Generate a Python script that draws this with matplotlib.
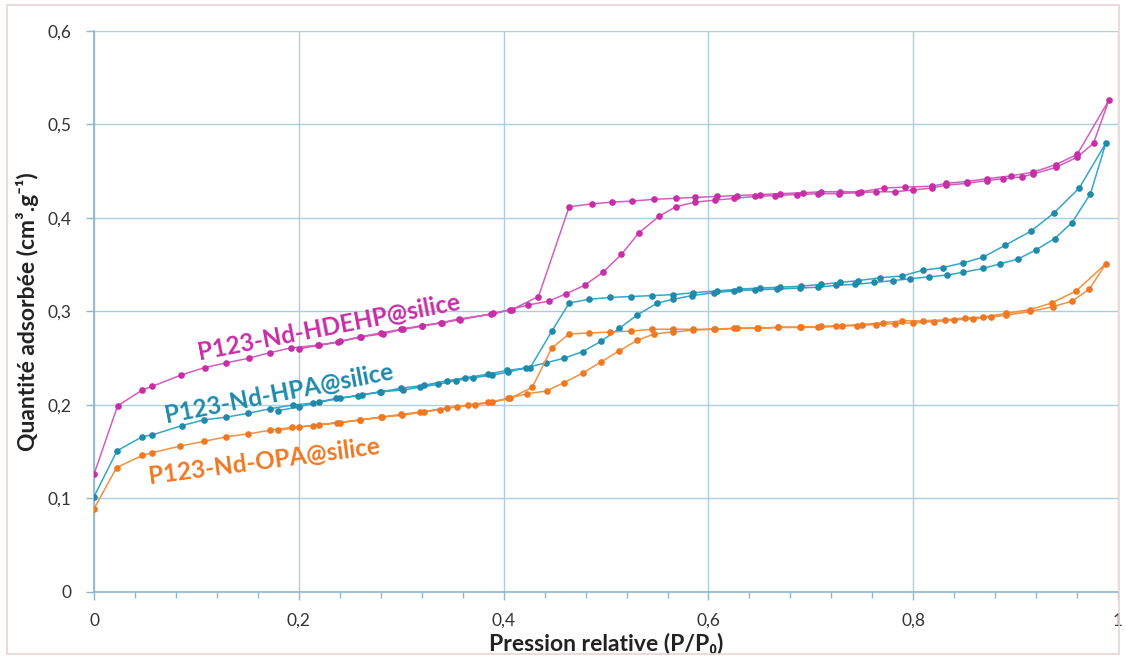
import matplotlib
matplotlib.use("Agg")
import matplotlib.pyplot as plt
from matplotlib.ticker import MultipleLocator, FuncFormatter
from matplotlib.patches import Rectangle

plt.rcParams['font.family'] = ['Lato', 'DejaVu Sans']

# P123-Nd-HDEHP@silice
hdehp_ads_x = [0, 0.023, 0.047, 0.057, 0.085, 0.108, 0.129, 0.151, 0.172, 0.192, 0.219, 0.238, 0.261,
               0.282, 0.302, 0.320, 0.339, 0.356, 0.388, 0.406, 0.424, 0.444, 0.461, 0.479, 0.497, 0.515,
               0.532, 0.552, 0.568, 0.587, 0.606, 0.625, 0.645, 0.665, 0.686, 0.707, 0.727, 0.746, 0.764,
               0.782, 0.800, 0.818, 0.832, 0.852, 0.872, 0.888, 0.906, 0.917, 0.939, 0.960, 0.976, 0.991]
hdehp_ads_y = [0.126, 0.199, 0.216, 0.220, 0.232, 0.240, 0.245, 0.250, 0.256, 0.261, 0.264, 0.267, 0.273,
               0.276, 0.281, 0.284, 0.288, 0.292, 0.297, 0.302, 0.307, 0.311, 0.319, 0.328, 0.342, 0.361,
               0.384, 0.402, 0.412, 0.417, 0.419, 0.421, 0.423, 0.424, 0.425, 0.426, 0.426, 0.427, 0.428,
               0.428, 0.430, 0.432, 0.435, 0.437, 0.440, 0.442, 0.444, 0.447, 0.454, 0.465, 0.480, 0.526]
hdehp_des_x = [0.960, 0.939, 0.917, 0.895, 0.872, 0.852, 0.832, 0.818, 0.792, 0.771, 0.749, 0.728, 0.710,
               0.692, 0.670, 0.650, 0.628, 0.608, 0.587, 0.568, 0.547, 0.525, 0.506, 0.486, 0.464, 0.434,
               0.408, 0.390, 0.357, 0.340, 0.320, 0.300, 0.280, 0.260, 0.240, 0.220, 0.200]
hdehp_des_y = [0.468, 0.457, 0.449, 0.445, 0.442, 0.439, 0.437, 0.434, 0.433, 0.432, 0.428, 0.428, 0.428,
               0.427, 0.426, 0.425, 0.424, 0.423, 0.422, 0.421, 0.420, 0.418, 0.417, 0.415, 0.412, 0.316,
               0.302, 0.298, 0.291, 0.288, 0.285, 0.281, 0.277, 0.273, 0.268, 0.264, 0.260]

# P123-Nd-HPA@silice
hpa_ads_x = [0, 0.0225, 0.047, 0.057, 0.086, 0.107, 0.129, 0.150, 0.172, 0.194, 0.214, 0.236, 0.258,
             0.279, 0.302, 0.318, 0.336, 0.353, 0.370, 0.389, 0.404, 0.422, 0.441, 0.459, 0.477, 0.495,
             0.513, 0.530, 0.550, 0.565, 0.584, 0.605, 0.625, 0.645, 0.667, 0.689, 0.707, 0.725, 0.743,
             0.762, 0.780, 0.797, 0.815, 0.833, 0.849, 0.868, 0.885, 0.902, 0.920, 0.938, 0.955, 0.973, 0.988]
hpa_ads_y = [0.102, 0.151, 0.166, 0.168, 0.178, 0.184, 0.187, 0.191, 0.196, 0.200, 0.202, 0.207, 0.210,
             0.214, 0.216, 0.219, 0.222, 0.226, 0.229, 0.232, 0.235, 0.240, 0.245, 0.250, 0.257, 0.268,
             0.282, 0.296, 0.309, 0.313, 0.317, 0.320, 0.322, 0.323, 0.324, 0.325, 0.326, 0.328, 0.329,
             0.331, 0.333, 0.335, 0.337, 0.339, 0.342, 0.346, 0.351, 0.356, 0.366, 0.378, 0.395, 0.426, 0.480]
hpa_des_x = [0.962, 0.937, 0.915, 0.890, 0.868, 0.849, 0.829, 0.809, 0.789, 0.767, 0.746, 0.728, 0.710,
             0.690, 0.670, 0.650, 0.630, 0.608, 0.585, 0.565, 0.545, 0.524, 0.504, 0.483, 0.464, 0.447,
             0.426, 0.403, 0.385, 0.362, 0.345, 0.322, 0.300, 0.280, 0.262, 0.240, 0.220, 0.200, 0.180]
hpa_des_y = [0.432, 0.405, 0.386, 0.371, 0.358, 0.352, 0.347, 0.344, 0.338, 0.336, 0.333, 0.331, 0.329,
             0.327, 0.326, 0.325, 0.324, 0.322, 0.320, 0.318, 0.317, 0.316, 0.315, 0.313, 0.309, 0.279,
             0.240, 0.237, 0.233, 0.229, 0.226, 0.221, 0.218, 0.214, 0.211, 0.207, 0.203, 0.198, 0.194]

# P123-Nd-OPA@silice
opa_ads_x = [0, 0.022, 0.047, 0.057, 0.084, 0.107, 0.129, 0.150, 0.172, 0.193, 0.214, 0.237, 0.260,
             0.281, 0.301, 0.318, 0.338, 0.354, 0.372, 0.389, 0.404, 0.423, 0.442, 0.459, 0.477, 0.495,
             0.513, 0.530, 0.547, 0.565, 0.585, 0.605, 0.625, 0.647, 0.668, 0.689, 0.707, 0.725, 0.745,
             0.764, 0.782, 0.800, 0.820, 0.840, 0.858, 0.876, 0.891, 0.914, 0.936, 0.955, 0.972, 0.988]
opa_ads_y = [0.089, 0.133, 0.146, 0.149, 0.156, 0.161, 0.166, 0.169, 0.173, 0.176, 0.178, 0.181, 0.184,
             0.187, 0.189, 0.192, 0.195, 0.198, 0.200, 0.203, 0.207, 0.212, 0.215, 0.224, 0.234, 0.246,
             0.258, 0.269, 0.276, 0.278, 0.280, 0.281, 0.282, 0.282, 0.283, 0.283, 0.283, 0.284, 0.285,
             0.286, 0.287, 0.288, 0.289, 0.291, 0.292, 0.294, 0.296, 0.300, 0.305, 0.311, 0.324, 0.351]
opa_des_x = [0.959, 0.935, 0.914, 0.891, 0.868, 0.850, 0.831, 0.809, 0.789, 0.770, 0.750, 0.730, 0.710,
             0.690, 0.668, 0.648, 0.628, 0.606, 0.585, 0.565, 0.545, 0.524, 0.504, 0.483, 0.464, 0.447,
             0.428, 0.406, 0.385, 0.365, 0.345, 0.322, 0.300, 0.280, 0.260, 0.240, 0.220, 0.200, 0.180]
opa_des_y = [0.322, 0.309, 0.302, 0.298, 0.294, 0.293, 0.291, 0.290, 0.290, 0.288, 0.286, 0.285, 0.284,
             0.283, 0.283, 0.282, 0.282, 0.281, 0.281, 0.281, 0.281, 0.279, 0.278, 0.277, 0.276, 0.261,
             0.219, 0.207, 0.203, 0.200, 0.197, 0.193, 0.190, 0.187, 0.184, 0.181, 0.179, 0.176, 0.173]

# (nom, x ads, y ads, x des, y des, couleur marqueur, couleur ligne)
series = [
    ("P123-Nd-HDEHP@silice", hdehp_ads_x, hdehp_ads_y, hdehp_des_x, hdehp_des_y, '#c62fa6', '#d25fbe'),
    ("P123-Nd-HPA@silice", hpa_ads_x, hpa_ads_y, hpa_des_x, hpa_des_y, '#1f8aaa', '#35a6c8'),
    ("P123-Nd-OPA@silice", opa_ads_x, opa_ads_y, opa_des_x, opa_des_y, '#ef7823', '#f3913f'),
]

fig = plt.figure(figsize=(11.26, 6.59), dpi=100)
ax = fig.add_axes([0.0835, 0.1017, 0.9095, 0.8513])

# cadre du graphique (style Excel)
fig.patches.append(Rectangle((0.006, 0.008), 0.988, 0.984, transform=fig.transFigure,
                             fill=False, edgecolor='#e6d6d2', linewidth=1.2))

for nom, ax_x, ax_y, de_x, de_y, couleur, couleur_ligne in series:
    xs = list(ax_x) + list(de_x)
    ys = list(ax_y) + list(de_y)
    ax.plot(xs, ys, color=couleur_ligne, linewidth=1.1, marker='o', markersize=4.8,
            markerfacecolor=couleur, markeredgewidth=0, zorder=3)

ax.set_xlim(0, 1)
ax.set_ylim(0, 0.6)
ax.xaxis.set_major_locator(MultipleLocator(0.2))
ax.xaxis.set_minor_locator(MultipleLocator(0.04))
ax.yaxis.set_major_locator(MultipleLocator(0.1))
virgule = FuncFormatter(lambda v, p: ('%g' % round(v, 2)).replace('.', ','))
ax.xaxis.set_major_formatter(virgule)
ax.yaxis.set_major_formatter(virgule)

ax.grid(True, which='major', color='#a9cfe0', linewidth=1.0)
ax.set_axisbelow(True)
for s in ['top', 'right']:
    ax.spines[s].set_visible(False)
for s in ['left', 'bottom']:
    ax.spines[s].set_color('#8fb6c9')
    ax.spines[s].set_linewidth(1.2)

ax.tick_params(axis='both', which='major', colors='#8fb6c9', labelcolor='#333333',
               labelsize=12.5, length=6, width=1)
ax.tick_params(axis='x', which='minor', colors='#8fb6c9', length=4, width=1)
ax.tick_params(axis='x', pad=9)
ax.tick_params(axis='y', pad=10)

ax.set_xlabel("Pression relative (P/P\u2080)", fontsize=16.5, fontweight='bold',
              color='#222222', labelpad=3)
ax.set_ylabel("Quantité adsorbée (cm\u00b3.g\u207b\u00b9)", fontsize=16.5, fontweight='bold',
              color='#222222', labelpad=6)

ax.text(0.229, 0.283, "P123-Nd-HDEHP@silice", color='#c62fa6', fontsize=17.5, fontweight='bold',
        rotation=11, ha='center', va='center', rotation_mode='anchor')
ax.text(0.181, 0.212, "P123-Nd-HPA@silice", color='#1f8aaa', fontsize=17.5, fontweight='bold',
        rotation=11, ha='center', va='center', rotation_mode='anchor')
ax.text(0.166, 0.140, "P123-Nd-OPA@silice", color='#ef7823', fontsize=17.5, fontweight='bold',
        rotation=7.5, ha='center', va='center', rotation_mode='anchor')

fig.savefig("out.png", dpi=100)
